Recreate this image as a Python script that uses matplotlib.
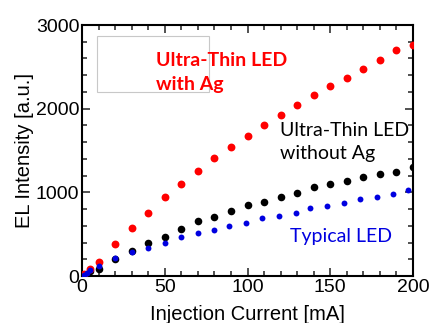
import matplotlib
matplotlib.use('Agg')
import matplotlib.pyplot as plt
from matplotlib.patches import Rectangle
from matplotlib.ticker import MultipleLocator

# 電流 [mA] と EL 強度
current = [1, 5, 10, 20, 30, 40, 50, 60, 70, 80, 90, 100,
           110, 120, 130, 140, 150, 160, 170, 180, 190, 200]
with_ag = [25, 80, 170, 380, 577, 750, 940, 1100, 1260, 1410, 1540, 1670,
           1810, 1930, 2045, 2160, 2275, 2365, 2480, 2585, 2700, 2760]
without_ag = [10, 63, 87, 200, 303, 394, 466, 558, 663, 703, 772, 844,
              884, 943, 990, 1062, 1094, 1138, 1186, 1218, 1249, 1305]

current_typ = [1, 3, 5, 10, 20, 30, 40, 50, 60, 70, 80, 89,
               99, 109, 119, 129, 138, 148, 158, 168, 178, 188, 197]
typical = [12, 40, 70, 125, 211, 283, 340, 400, 463, 509, 549, 597,
           633, 693, 720, 752, 812, 836, 875, 915, 944, 975, 1023]

plt.rcParams['font.family'] = ['Liberation Sans', 'DejaVu Sans']

fig = plt.figure(figsize=(4.3, 3.23), dpi=100)
ax = fig.add_axes([0.1907, 0.1455, 0.7698, 0.7771])

ax.scatter(current, without_ag, s=30, c='black', linewidths=0, zorder=3)
ax.scatter(current, with_ag, s=32, c='#ff0000', linewidths=0, zorder=4)
ax.scatter(current_typ, typical, s=18, c='#0000e0', linewidths=0, zorder=5)

# 空のテキストボックスの枠
ax.add_patch(Rectangle((9, 2200), 68, 670, fill=False, ec='#c8c8c8', lw=0.8, zorder=1))

note = ['Lato', 'DejaVu Sans']
ax.text(44.5, 2680, 'Ultra-Thin LED\nwith Ag', color='#ff0000', fontsize=14,
        fontweight='bold', family=note, va='top', ha='left', linespacing=1.5)
ax.text(119.5, 1840, 'Ultra-Thin LED\nwithout Ag', color='black', fontsize=14,
        family=note, va='top', ha='left', linespacing=1.45)
ax.text(125.5, 406, 'Typical LED', color='#0000e0', fontsize=14,
        family=note, va='baseline', ha='left')

ax.set_xlim(0, 200)
ax.set_ylim(0, 3000)
ax.xaxis.set_major_locator(MultipleLocator(50))
ax.xaxis.set_minor_locator(MultipleLocator(10))
ax.yaxis.set_major_locator(MultipleLocator(1000))
ax.yaxis.set_minor_locator(MultipleLocator(200))
ax.tick_params(which='both', direction='in', top=True, right=True,
               labelsize=14, width=1.2, color='#333333', pad=2)
ax.tick_params(which='major', length=6)
ax.tick_params(which='minor', length=3.5)
for sp in ax.spines.values():
    sp.set_linewidth(1.5)
    sp.set_color('black')

ax.set_xlabel('Injection Current [mA]', fontsize=14.5, labelpad=6.5)
ax.set_ylabel('EL Intensity [a.u.]', fontsize=14.5, labelpad=1)

fig.savefig('out.png', dpi=100)
